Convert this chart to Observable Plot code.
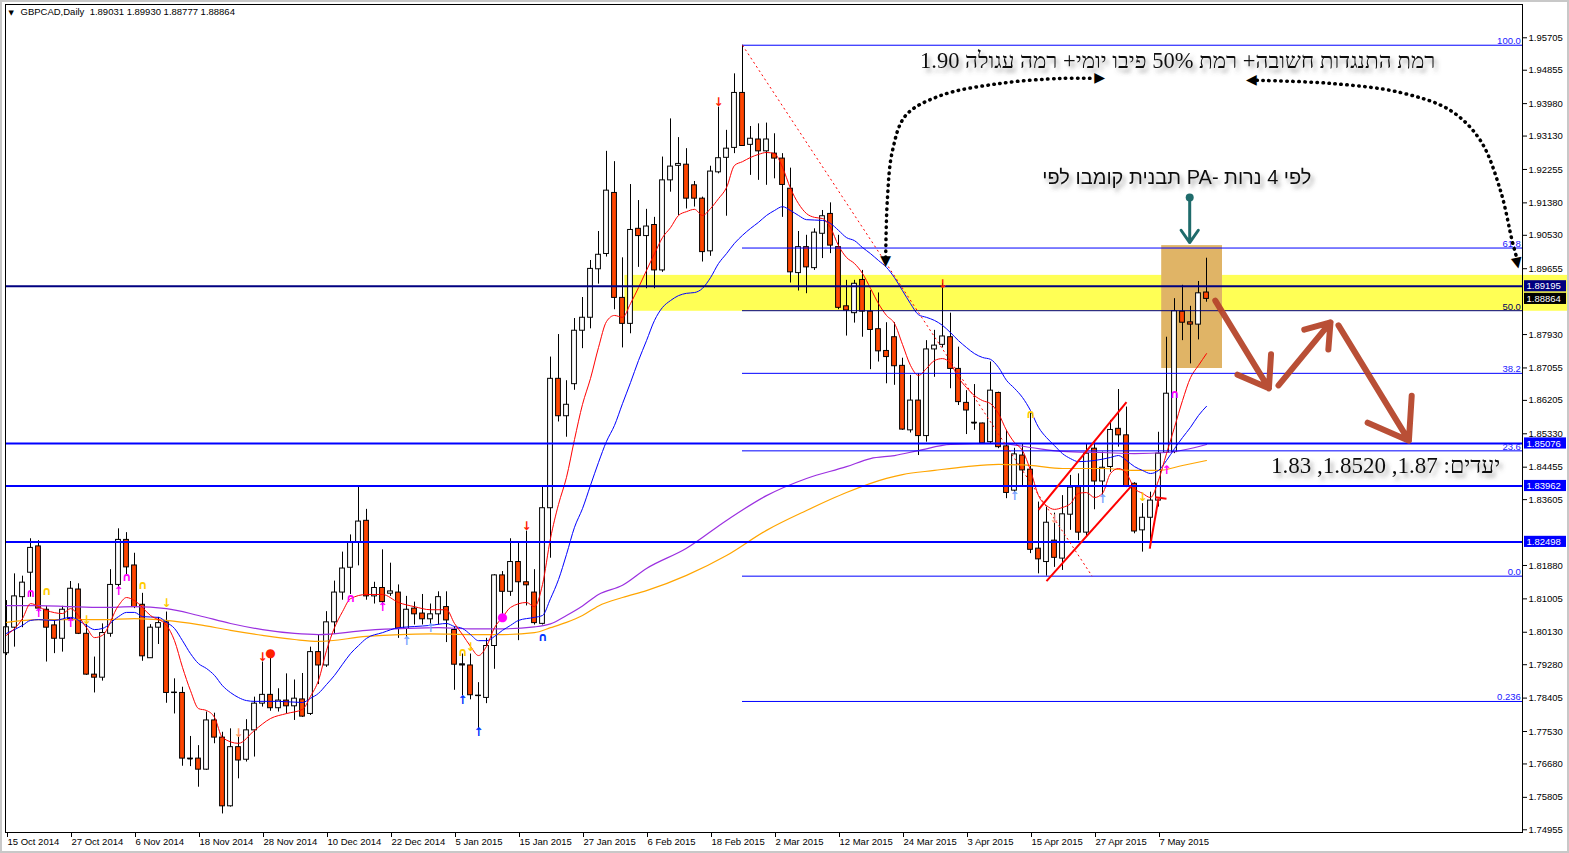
<!DOCTYPE html>
<html><head><meta charset="utf-8">
<script src="https://cdn.jsdelivr.net/npm/d3@7"></script>
<script src="https://cdn.jsdelivr.net/npm/@observablehq/plot@0.6"></script>
<style>
html,body{margin:0;padding:0;background:#fff;}
#chart{width:1569px;height:853px;overflow:hidden;}
</style>
</head><body><div id="chart"></div>
<script>
// ---------- DATA ----------
const symbolTitle = "GBPCAD,Daily\u00A0\u00A01.89031 1.89930 1.88777 1.88864";
const opens = [1.7958,1.8025,1.8105,1.8169,1.8238,1.8072,1.8031,1.7996,1.8048,1.8125,1.8009,1.7902,1.7894,1.8009,1.8137,1.8255,1.8188,1.8085,1.7945,1.8025,1.8039,1.7854,1.7854,1.7682,1.7682,1.7653,1.7782,1.7737,1.7557,1.7712,1.7679,1.7756,1.7826,1.7849,1.7814,1.7834,1.7819,1.7837,1.7799,1.7961,1.7926,1.8039,1.8117,1.8182,1.8247,1.8305,1.8107,1.8129,1.8114,1.8117,1.8022,1.8075,1.8062,1.8047,1.8060,1.8079,1.8019,1.7926,1.7926,1.7846,1.7841,1.7977,1.8162,1.8119,1.8197,1.8144,1.8117,1.8035,1.8338,1.8677,1.8579,1.8663,1.8803,1.8837,1.8964,1.9004,1.9164,1.8889,1.8821,1.9070,1.9051,1.9080,1.8961,1.9197,1.9235,1.9238,1.9184,1.9149,1.9011,1.9218,1.9256,1.9282,1.9426,1.9290,1.9304,1.9273,1.9267,1.9254,1.9175,1.8954,1.9022,1.8967,1.9057,1.9109,1.9022,1.8867,1.8849,1.8936,1.8853,1.8807,1.8750,1.8786,1.8711,1.8542,1.8620,1.8527,1.8754,1.8766,1.8786,1.8703,1.8614,1.8562,1.8560,1.8511,1.8640,1.8500,1.8384,1.8476,1.8439,1.8232,1.8197,1.8253,1.8206,1.8321,1.8393,1.8274,1.8494,1.8408,1.8446,1.8546,1.8529,1.8402,1.8280,1.8313,1.8358,1.8483,1.8485,1.8853,1.8825,1.8819,1.89031];
const highs = [1.8096,1.8166,1.8160,1.8258,1.8253,1.8081,1.8044,1.8081,1.8146,1.8140,1.8033,1.7948,1.8035,1.8177,1.8284,1.8274,1.8220,1.8115,1.8033,1.8052,1.8066,1.7891,1.7869,1.7740,1.7716,1.7804,1.7801,1.7751,1.7760,1.7738,1.7784,1.7843,1.7935,1.7948,1.7865,1.7904,1.7888,1.7905,1.7974,1.8007,1.8067,1.8147,1.8223,1.8268,1.8393,1.8335,1.8144,1.8229,1.8194,1.8137,1.8107,1.8092,1.8112,1.8087,1.8119,1.8119,1.8027,1.7956,1.7956,1.7881,1.7997,1.8164,1.8172,1.8258,1.8247,1.8278,1.8177,1.8393,1.8734,1.8793,1.8672,1.8835,1.8890,1.8987,1.9063,1.9273,1.9246,1.8994,1.9186,1.9144,1.9121,1.9100,1.9258,1.9358,1.9309,1.9280,1.9194,1.9153,1.9234,1.9389,1.9328,1.9476,1.9551,1.9338,1.9345,1.9347,1.9319,1.9267,1.9229,1.9063,1.9053,1.9070,1.9118,1.9138,1.9053,1.8935,1.8935,1.8961,1.8908,1.8902,1.8824,1.8824,1.8731,1.8686,1.8691,1.8777,1.8804,1.8927,1.8849,1.8760,1.8646,1.8662,1.8561,1.8721,1.8642,1.8542,1.8495,1.8507,1.8590,1.8354,1.8341,1.8325,1.8371,1.8424,1.8428,1.8505,1.8515,1.8485,1.8568,1.8649,1.8603,1.8405,1.8350,1.8380,1.8537,1.8786,1.8887,1.8922,1.8867,1.8932,1.89930];
const lows = [1.7952,1.7974,1.8025,1.8105,1.8065,1.7935,1.7957,1.7961,1.8044,1.8007,1.7900,1.7854,1.7885,1.8000,1.8131,1.8164,1.8075,1.7937,1.7945,1.7981,1.7827,1.7799,1.7662,1.7661,1.7607,1.7651,1.7721,1.7537,1.7555,1.7629,1.7673,1.7686,1.7817,1.7806,1.7804,1.7799,1.7782,1.7790,1.7795,1.7876,1.7921,1.8007,1.8097,1.8112,1.8187,1.8097,1.8087,1.8082,1.8107,1.7997,1.7997,1.8032,1.8032,1.8032,1.8032,1.7986,1.7861,1.7846,1.7836,1.7756,1.7826,1.7916,1.8052,1.8107,1.7991,1.8082,1.8032,1.8032,1.8207,1.8564,1.8524,1.8647,1.8756,1.8808,1.8925,1.8996,1.8858,1.8758,1.8795,1.8969,1.8913,1.8913,1.8956,1.9166,1.9105,1.9122,1.9127,1.8983,1.8998,1.9214,1.9103,1.9267,1.9286,1.9210,1.9197,1.9184,1.9201,1.9100,1.8928,1.8907,1.8900,1.8961,1.8992,1.9005,1.8858,1.8789,1.8823,1.8786,1.8701,1.8721,1.8664,1.8660,1.8542,1.8535,1.8476,1.8511,1.8681,1.8758,1.8651,1.8607,1.8531,1.8542,1.8507,1.8505,1.8494,1.8363,1.8376,1.8393,1.8219,1.8166,1.8160,1.8183,1.8175,1.8280,1.8253,1.8262,1.8334,1.8367,1.8432,1.8498,1.8392,1.8271,1.8223,1.8232,1.8341,1.8481,1.8481,1.8777,1.8716,1.8779,1.88777];
const closes = [1.8026,1.8107,1.8143,1.8234,1.8075,1.8025,1.7996,1.8072,1.8127,1.8009,1.7902,1.7894,1.8011,1.8137,1.8255,1.8183,1.8079,1.7950,1.8025,1.8037,1.7854,1.7855,1.7682,1.7681,1.7653,1.7782,1.7737,1.7557,1.7712,1.7677,1.7756,1.7826,1.7849,1.7814,1.7834,1.7819,1.7839,1.7792,1.7961,1.7926,1.8039,1.8117,1.8180,1.8247,1.8303,1.8107,1.8129,1.8092,1.8120,1.8022,1.8072,1.8060,1.8047,1.8060,1.8105,1.8044,1.7928,1.7929,1.7848,1.7847,1.7977,1.8162,1.8119,1.8197,1.8144,1.8136,1.8037,1.8338,1.8677,1.8579,1.8609,1.8803,1.8837,1.8965,1.9002,1.9170,1.8889,1.8821,1.9067,1.9051,1.9076,1.8961,1.9197,1.9233,1.9240,1.9149,1.9149,1.9009,1.9220,1.9255,1.9280,1.9426,1.9287,1.9306,1.9273,1.9304,1.9254,1.9185,1.8956,1.9022,1.8969,1.9060,1.9103,1.9026,1.8863,1.8856,1.8926,1.8853,1.8805,1.8749,1.8734,1.8710,1.8544,1.8620,1.8527,1.8754,1.8764,1.8788,1.8703,1.8616,1.8594,1.8561,1.8508,1.8646,1.8498,1.8378,1.8479,1.8437,1.8229,1.8204,1.8300,1.8208,1.8322,1.8392,1.8274,1.8481,1.8408,1.8444,1.8543,1.8529,1.8396,1.8277,1.8313,1.8358,1.8481,1.8638,1.8854,1.8824,1.8819,1.8901,1.88864];

// moving averages: [bar index, price]
const maRed = [[0,1.8005],[2,1.8049],[3,1.8088],[5,1.8070],[7,1.8062],[8,1.8075],[10,1.8025],[11,1.7999],[12,1.8005],[14,1.8083],[15,1.8104],[16,1.8096],[18,1.8057],[20,1.8031],[21,1.7991],[22,1.7921],[23,1.7860],[24,1.7813],[25,1.7808],[26,1.7790],[27,1.7737],[29,1.7722],[31,1.7756],[33,1.7787],[35,1.7800],[37,1.7811],[38,1.7845],[39,1.7887],[40,1.7965],[41,1.8025],[42,1.8067],[43,1.8101],[45,1.8112],[47,1.8112],[49,1.8091],[51,1.8080],[53,1.8072],[55,1.8072],[56,1.8036],[57,1.8007],[58,1.7976],[59,1.7952],[60,1.7976],[61,1.8025],[62,1.8052],[63,1.8078],[65,1.8091],[66,1.8080],[67,1.8138],[68,1.8259],[69,1.8348],[70,1.8419],[71,1.8518],[72,1.8610],[73,1.8678],[74,1.8759],[75,1.8827],[76,1.8843],[77,1.8838],[78,1.8874],[79,1.8916],[80,1.8961],[81,1.9005],[82,1.9047],[83,1.9073],[84,1.9105],[85,1.9115],[86,1.9121],[87,1.9105],[88,1.9123],[89,1.9149],[90,1.9178],[91,1.9236],[92,1.9246],[93,1.9257],[94,1.9265],[95,1.9270],[96,1.9267],[97,1.9231],[98,1.9176],[99,1.9136],[100,1.9110],[101,1.9100],[102,1.9097],[103,1.9073],[104,1.9026],[105,1.8995],[106,1.8979],[107,1.8953],[108,1.8914],[109,1.8874],[110,1.8843],[111,1.8822],[112,1.8767],[113,1.8712],[114,1.8686],[115,1.8704],[116,1.8725],[117,1.8730],[118,1.8717],[119,1.8680],[120,1.8654],[121,1.8633],[122,1.8620],[123,1.8612],[124,1.8586],[125,1.8542],[126,1.8510],[127,1.8489],[128,1.8437],[129,1.8371],[130,1.8345],[131,1.8335],[132,1.8340],[133,1.8350],[134,1.8377],[135,1.8379],[136,1.8366],[137,1.8377],[138,1.8429],[139,1.8442],[140,1.8429],[141,1.8390],[142,1.8377],[143,1.8366],[144,1.8411],[145,1.8481],[146,1.8550],[147,1.8620],[148,1.8680],[149,1.8712],[150,1.8743]];
const maBlue = [[0,1.8010],[2,1.8031],[3,1.8044],[4,1.8046],[6,1.8044],[8,1.8052],[10,1.8031],[11,1.8020],[12,1.8023],[14,1.8054],[15,1.8065],[16,1.8065],[17,1.8054],[19,1.8052],[20,1.8039],[21,1.8023],[22,1.7991],[23,1.7957],[24,1.7931],[25,1.7918],[26,1.7900],[27,1.7873],[28,1.7855],[29,1.7842],[30,1.7834],[31,1.7832],[34,1.7832],[37,1.7829],[38,1.7840],[39,1.7853],[40,1.7876],[41,1.7900],[42,1.7929],[43,1.7957],[44,1.7978],[45,1.7997],[47,1.8012],[49,1.8025],[51,1.8028],[53,1.8031],[55,1.8036],[56,1.8028],[57,1.8023],[58,1.8007],[59,1.7991],[60,1.7991],[61,1.8002],[62,1.8018],[63,1.8031],[64,1.8044],[66,1.8052],[67,1.8057],[68,1.8101],[69,1.8151],[70,1.8217],[71,1.8288],[72,1.8337],[73,1.8398],[74,1.8458],[75,1.8513],[76,1.8555],[77,1.8612],[78,1.8667],[79,1.8725],[80,1.8777],[81,1.8830],[82,1.8864],[83,1.8882],[84,1.8895],[85,1.8901],[86,1.8903],[87,1.8914],[88,1.8942],[89,1.8979],[90,1.9005],[91,1.9032],[92,1.9053],[93,1.9071],[94,1.9087],[95,1.9105],[96,1.9118],[97,1.9128],[98,1.9118],[99,1.9105],[100,1.9094],[102,1.9092],[103,1.9084],[104,1.9066],[105,1.9047],[106,1.9039],[107,1.9021],[108,1.9005],[109,1.8987],[110,1.8969],[111,1.8942],[112,1.8908],[113,1.8874],[114,1.8845],[115,1.8838],[116,1.8830],[117,1.8817],[118,1.8798],[119,1.8777],[120,1.8759],[121,1.8743],[122,1.8733],[123,1.8728],[124,1.8707],[125,1.8673],[126,1.8652],[127,1.8628],[128,1.8594],[129,1.8550],[130,1.8523],[131,1.8502],[132,1.8481],[133,1.8468],[134,1.8460],[136,1.8463],[138,1.8471],[139,1.8476],[140,1.8463],[141,1.8447],[142,1.8437],[143,1.8429],[144,1.8437],[145,1.8463],[146,1.8494],[147,1.8523],[148,1.8550],[149,1.8581],[150,1.8605]];
const maPurple = [[0,1.8083],[4,1.8083],[8,1.8080],[12,1.8078],[16,1.8080],[20,1.8075],[24,1.8057],[28,1.8036],[32,1.8020],[36,1.8010],[39,1.8007],[45,1.8018],[50,1.8023],[54,1.8025],[58,1.8022],[62,1.8022],[66,1.8027],[68,1.8035],[70,1.8057],[72,1.8082],[74,1.8112],[77,1.8136],[80,1.8180],[85,1.8233],[90,1.8306],[95,1.8371],[100,1.8416],[105,1.8447],[108,1.8468],[111,1.8476],[114,1.8489],[118,1.8505],[124,1.8508],[128,1.8497],[132,1.8487],[137,1.8484],[141,1.8481],[145,1.8484],[150,1.8505]];
const maOrange = [[0,1.8039],[4,1.8046],[8,1.8046],[12,1.8046],[16,1.8049],[20,1.8044],[24,1.8033],[28,1.8018],[32,1.8005],[36,1.7994],[39,1.7989],[45,1.8002],[53,1.8009],[58,1.8007],[62,1.8007],[66,1.8012],[68,1.8025],[70,1.8039],[72,1.8057],[74,1.8082],[77,1.8104],[80,1.8122],[85,1.8162],[90,1.8214],[95,1.8280],[100,1.8332],[105,1.8379],[110,1.8416],[112,1.8426],[116,1.8437],[120,1.8447],[124,1.8453],[128,1.8450],[132,1.8442],[137,1.8442],[141,1.8437],[144,1.8437],[147,1.8450],[150,1.8463]];

// axes
const dateIdx = [0,8,16,24,32,40,48,56,64,72,80,88,96,104,112,120,128,136,144];
const dateLabels = ["15 Oct 2014","27 Oct 2014","6 Nov 2014","18 Nov 2014","28 Nov 2014","10 Dec 2014","22 Dec 2014","5 Jan 2015","15 Jan 2015","27 Jan 2015","6 Feb 2015","18 Feb 2015","2 Mar 2015","12 Mar 2015","24 Mar 2015","3 Apr 2015","15 Apr 2015","27 Apr 2015","7 May 2015"];
const priceTicks = [1.95705,1.94855,1.93980,1.93130,1.92255,1.91380,1.90530,1.89655,1.87930,1.87055,1.86205,1.85330,1.84455,1.83605,1.82730,1.81880,1.81005,1.80130,1.79280,1.78405,1.77530,1.76680,1.75805,1.74955];

// drawn objects
const hLevels = [1.89195, 1.85076, 1.83962, 1.82498];
const hColors = ["#000080", "#0000FF", "#0000FF", "#0000FF"];
const priceBoxes = [1.89195, 1.88864, 1.85076, 1.83962, 1.82498];
const priceBoxColors = ["#000080", "#000000", "#0000FF", "#0000FF", "#0000FF"];
const fibAnchor = {i1: 92, high: 1.9551, i2: 135.7, low: 1.8160};
const fibLevels = [100, 61.8, 50, 38.2, 23.6, 0, -23.6];
const fibLabels = ["100.0", "61.8", "50.0", "38.2", "23.6", "0.0", "0.236"];
const yellowZone = {x1: 77.3, x2: 195.5, low: 1.8854, high: 1.8948};
const comboBox = {x1: 144.4, x2: 152.0, low: 1.8704, high: 1.9026};
const channelLines = [
  [130.0, 1.8147, 140.6, 1.8396],
  [129.0, 1.8334, 140.0, 1.8616],
  [142.9, 1.8232, 144.0, 1.8363],
  [143.6, 1.8367, 145.0, 1.8363]
];
const targetArrows = [
  [151.1, 1.8882, 157.8, 1.8652],
  [159.0, 1.8660, 165.5, 1.8825],
  [166.5, 1.8817, 175.3, 1.8515]
];
const dottedLeft = [[109.9,1.8995],[110.1,1.9144],[110.75,1.9275],[112.4,1.9367],[116.75,1.9419],[124.25,1.9451],[131.75,1.9464],[135.9,1.9464]];
const dottedRight = [[156.3,1.9459],[165.5,1.9451],[174.25,1.9427],[180.5,1.9380],[184.25,1.9301],[186.75,1.9170],[188.2,1.9039],[188.7,1.9000]];
const dottedHeads = [[109.9,1.8982,180],[136.8,1.9464,90],[155.5,1.9459,-90],[188.85,1.8978,168]];
const pin = {i: 147.9, top: 1.9152, tip: 1.9034};
const notes = [
  {t: "רמת התנגדות חשובה+ רמת 50% פיבו יומי+ רמה עגולה 1.90", i: 146.4, p: 1.9511, s: 22.5},
  {t: "יעדים: 1.87, 1.8520, 1.83", i: 172.4, p: 1.8450, s: 23}
];
const noteSans = [{t: "תבנית קומבו לפי PA- לפי 4 נרות", i: 146.3, p: 1.9205, s: 20}];
const signals = [
 [3,1.8115,"∩","#FF00FF"],[4,1.8062,"↑","#FF00FF"],[5,1.8120,"∩","#FFCC00"],[8,1.8036,"↑","#FF00FF"],
 [10,1.8044,"↓","#FFCC00"],[14,1.8122,"↑","#FF00FF"],[15,1.8157,"∩","#FF00FF"],[17,1.8136,"∩","#FFCC00"],
 [20,1.8088,"↓","#FFCC00"],[29,1.7748,"↓","#FF9966"],[32,1.7947,"↓","#FF2000"],[33,1.7957,"●","#FF2000"],
 [43,1.8102,"∩","#FF00FF"],[47,1.8079,"↑","#FF00FF"],[50,1.7991,"↑","#7FA7FF"],[53,1.8024,"↑","#7FA7FF"],
 [57,1.7961,"∩","#FFCC00"],[58,1.7974,"↓","#FFCC00"],[57,1.7836,"↑","#0033FF"],[59,1.7750,"↑","#0033FF"],
 [62,1.8052,"●","#FF00FF"],[65,1.8290,"↓","#FF2000"],[67,1.7999,"∩","#0033FF"],[89,1.9402,"↓","#FF2000"],
 [117,1.8926,"↓","#FF2000"],[126,1.8369,"↑","#7FA7FF"],[128,1.8585,"∩","#FFCC00"],[131,1.8310,"↓","#FF9988"],
 [137,1.8363,"↑","#7FA7FF"],[142,1.8367,"↓","#FFCC00"],[145,1.8437,"↑","#FF00FF"],[146,1.8638,"∩","#FF00FF"]
];

// ---------- BUILD ----------
const candles = opens.map((o, i) => ({i, o, h: highs[i], l: lows[i], c: closes[i]}));
const fibRange = fibAnchor.high - fibAnchor.low;
const fibRows = fibLevels.map((lv, k) => ({p: fibAnchor.low + lv / 100 * fibRange, label: fibLabels[k], dark: lv === 50}));
const hRows = hLevels.map((v, k) => ({v, c: hColors[k]}));
const boxRows = priceBoxes.map((v, k) => ({v, c: priceBoxColors[k]}));
const BOXH = 0.00146;
const XMAX = 189.5;

const chart = Plot.plot({
  width: 1569, height: 853,
  marginLeft: 5, marginRight: 47, marginTop: 4, marginBottom: 21,
  x: {domain: [-0.125, XMAX], axis: null},
  y: {domain: [1.74884, 1.96577], axis: null},
  style: {fontFamily: "'Liberation Sans', Arial, sans-serif", fontSize: "9.5px", background: "white", overflow: "visible"},
  marks: [
    Plot.rect([yellowZone], {x1: "x1", x2: "x2", y1: "low", y2: "high", fill: "#FFFF55"}),
    Plot.rect([comboBox], {x1: "x1", x2: "x2", y1: "low", y2: "high", fill: "#E0B466"}),
    // candles
    Plot.ruleX(candles, {x: "i", y1: "l", y2: "h", stroke: "black", strokeWidth: 1}),
    Plot.rect(candles, {x1: d => d.i - 0.3, x2: d => d.i + 0.3, y1: "o", y2: "c",
      fill: d => d.c >= d.o ? "white" : "#FF4500", stroke: "black", strokeWidth: 1}),
    Plot.ruleY(candles.filter(d => Math.abs(d.o - d.c) < 0.0004), {y: "c", x1: d => d.i - 0.3, x2: d => d.i + 0.3, stroke: "black"}),
    // moving averages
    Plot.line(maOrange, {x: d => d[0], y: d => d[1], stroke: "#FFA500", strokeWidth: 1.2, curve: "monotone-x"}),
    Plot.line(maPurple, {x: d => d[0], y: d => d[1], stroke: "#9B30E0", strokeWidth: 1.2, curve: "monotone-x"}),
    Plot.line(maBlue, {x: d => d[0], y: d => d[1], stroke: "#0000FF", strokeWidth: 1, curve: "monotone-x"}),
    Plot.line(maRed, {x: d => d[0], y: d => d[1], stroke: "#FF0000", strokeWidth: 1, curve: "monotone-x"}),
    // horizontal levels
    Plot.ruleY(hRows, {y: "v", stroke: "c", strokeWidth: 2}),
    // fibonacci
    Plot.ruleY(fibRows, {y: "p", x1: fibAnchor.i1, x2: XMAX, stroke: d => d.dark ? "#000080" : "#0000FF", strokeWidth: 1}),
    Plot.text(fibRows, {x: XMAX - 0.2, y: "p", text: "label", textAnchor: "end", lineAnchor: "bottom", dy: -1,
      fill: d => d.dark ? "#000060" : "#2020FF", fontSize: 9.5}),
    Plot.link([fibAnchor], {x1: "i1", y1: "high", x2: "i2", y2: "low", stroke: "#FF0000", strokeDasharray: "2,3", strokeWidth: 1}),
    // channel lines
    Plot.link(channelLines, {x1: d => d[0], y1: d => d[1], x2: d => d[2], y2: d => d[3], stroke: "#FF0000", strokeWidth: 2}),
    // signals
    Plot.text(signals, {x: d => d[0], y: d => d[1], text: d => d[2], fill: d => d[3], fontSize: 12, fontWeight: "bold",
      fontFamily: "'DejaVu Sans', sans-serif"}),
    // target arrows
    Plot.arrow(targetArrows, {x1: d => d[0], y1: d => d[1], x2: d => d[2], y2: d => d[3], stroke: "#B5462B",
      strokeWidth: 6, headLength: 26, headAngle: 70, strokeOpacity: 0.95}),
    // dotted curved arrows
    Plot.line(dottedLeft, {x: d => d[0], y: d => d[1], curve: "catmull-rom", stroke: "black", strokeWidth: 3.5,
      strokeDasharray: "0.5,5.5", strokeLinecap: "round"}),
    Plot.line(dottedRight, {x: d => d[0], y: d => d[1], curve: "catmull-rom", stroke: "black", strokeWidth: 3.5,
      strokeDasharray: "0.5,5.5", strokeLinecap: "round"}),
    Plot.text(dottedHeads, {x: d => d[0], y: d => d[1], text: () => "▲", rotate: d => d[2], fontSize: 14, fill: "black",
      fontFamily: "'DejaVu Sans', sans-serif"}),
    // pin arrow
    Plot.arrow([pin], {x1: "i", y1: "top", x2: "i", y2: "tip", stroke: "#1F6B6B", strokeWidth: 3, headLength: 10, headAngle: 70}),
    Plot.dot([pin], {x: "i", y: "top", r: 4, fill: "#1F6B6B"}),
    // notes
    Plot.text(notes, {x: "i", y: "p", text: "t", fontSize: "s", fill: "#111", ariaLabel: "note",
      fontFamily: "'Liberation Serif', 'Times New Roman', serif"}),
    Plot.text(noteSans, {x: "i", y: "p", text: "t", fontSize: "s", fill: "#111", ariaLabel: "note",
      fontFamily: "'Liberation Sans', Arial, sans-serif"}),
    // price boxes on the axis
    Plot.rect(boxRows, {x1: 189.75, x2: 195.0, y1: d => d.v - BOXH, y2: d => d.v + BOXH, fill: "c"}),
    Plot.text(boxRows, {x: 190.0, y: "v", text: d => d.v.toFixed(5), fill: "white", textAnchor: "start", fontSize: 9.5}),
    // axes
    Plot.axisY(priceTicks.filter(t => !priceBoxes.some(b => Math.abs(b - t) < 0.0025)), {anchor: "right", tickSize: 4, tickPadding: 2,
      tickFormat: d => d.toFixed(5), fontSize: 9.5}),
    Plot.axisX(dateIdx, {anchor: "bottom", tickSize: 5, tickPadding: 1, textAnchor: "start", dx: 1,
      tickFormat: d => dateLabels[dateIdx.indexOf(d)], fontSize: 9.5}),
    Plot.frame({stroke: "black", strokeWidth: 1}),
    // title
    Plot.text([symbolTitle], {text: d => d, frameAnchor: "top-left", dx: 15, dy: 4, textAnchor: "start", lineAnchor: "top", fontSize: 9.5, fill: "black"}),
    Plot.text(["▼"], {text: d => d, frameAnchor: "top-left", dx: 3, dy: 6, textAnchor: "start", lineAnchor: "top", fontSize: 7, fill: "black",
      fontFamily: "'DejaVu Sans', sans-serif"})
  ]
});

document.getElementById("chart").appendChild(chart);

// drop shadow under the Hebrew notes
const svg = d3.select(chart.tagName.toLowerCase() === "svg" ? chart : chart.querySelector("svg"));
const defs = svg.insert("defs", ":first-child");
defs.append("filter").attr("id", "noteShadow").attr("x", "-10%").attr("y", "-50%").attr("width", "125%").attr("height", "220%")
  .append("feDropShadow").attr("dx", 3).attr("dy", 4).attr("stdDeviation", 2).attr("flood-color", "#555").attr("flood-opacity", 0.55);
svg.selectAll("text").filter(function () { return /[\u0590-\u05FF]/.test(this.textContent); })
  .attr("filter", "url(#noteShadow)");
// light grey window border
svg.append("rect").attr("x", 0.5).attr("y", 0.5).attr("width", 1568).attr("height", 852)
  .attr("fill", "none").attr("stroke", "#C8C8C8").attr("stroke-width", 3);
</script>
</body></html>
